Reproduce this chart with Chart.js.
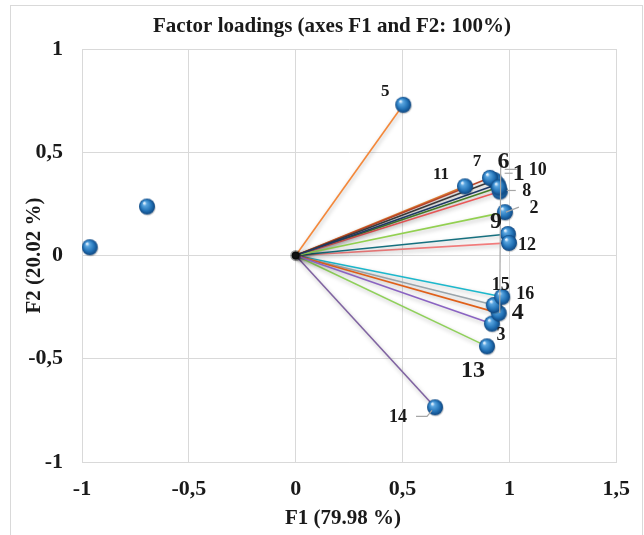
<!DOCTYPE html>
<html>
<head>
<meta charset="utf-8">
<script src="https://cdn.jsdelivr.net/npm/chart.js@4"></script>
<style>
  html, body { margin: 0; padding: 0; background: #ffffff; }
  #wrap { width: 644px; height: 535px; position: relative; }
</style>
</head>
<body>
<div id="wrap"><canvas id="c" width="644" height="535"></canvas></div>
<script>
// ---- data ----
const varLabels = ['1','2','3','4','5','6','7','8','9','10','11','12','13','14','15','16'];
const f1 = [0.945, 0.979, 0.918, 0.950, 0.503, 0.930, 0.909, 0.955, 0.993, 0.950, 0.792, 0.998, 0.895, 0.652, 0.927, 0.966];
const f2 = [0.345, 0.210, -0.330, -0.279, 0.730, 0.365, 0.376, 0.310, 0.104, 0.330, 0.335, 0.061, -0.440, -0.735, -0.240, -0.200];
const suppF1 = [-0.964, -0.696];
const suppF2 = [0.040, 0.237];
const xTickLabels = ['-1', '-0,5', '0', '0,5', '1', '1,5'];
const yTickLabels = ['-1', '-0,5', '0', '0,5', '1'];
const chartTitle = 'Factor loadings (axes F1 and F2: 100%)';
const xTitle = 'F1 (79.98 %)';
const yTitle = 'F2 (20.02 %)';

// ---- styles ----
const lineColors = ['#1f3864', '#92d050', '#8a63c2', '#e0601a', '#f4883a', '#3a3a3a', '#b8452a',
                    '#ef5a5a', '#16707f', '#4d8a2a', '#e07b2e', '#f27c7c', '#8fd05a', '#8064a2', '#9aa4aa', '#1cb8cc'];
const labelFont = [24, 18, 18, 24, 17, 24, 17, 18, 24, 18, 17, 18, 24, 18, 18, 18];
// label offsets in pixels relative to the point, and optional leader polylines (pixel offsets)
const labelOffsets = [[21,-10],[29,-4],[9,12],[19,0],[-18,-13],[9,-18],[-13,-16],[27,0],[-12,-12],[39,-17],
                      [-24,-12],[18,2],[-14,24],[-37,10],[7,-20],[23,-2]];
const leaders = {
  0: [[7,-11],[15,-11]],
  1: [[1,0],[14,-5]],
  3: [[1,0],[2,-148]],
  7: [[7,-1],[16,-1]],
  9: [[6,-18],[18,-18]],
  13: [[-3,3],[-8,9],[-19,9]]
};

function makeSphere(r) {
  const s = r * 2 + 4;
  const cv = document.createElement('canvas');
  cv.width = s; cv.height = s;
  const g = cv.getContext('2d');
  const c = s / 2;
  g.beginPath(); g.arc(c + 0.8, c + 1.2, r, 0, Math.PI * 2);
  g.fillStyle = 'rgba(0,0,0,0.18)'; g.fill();
  const grad = g.createRadialGradient(c - r * 0.35, c - r * 0.45, r * 0.08, c, c, r);
  grad.addColorStop(0, '#e4f2ff');
  grad.addColorStop(0.2, '#5aa6e0');
  grad.addColorStop(0.65, '#2474b8');
  grad.addColorStop(1, '#0e4680');
  g.beginPath(); g.arc(c, c, r, 0, Math.PI * 2);
  g.fillStyle = grad; g.fill();
  return cv;
}
const sphere = makeSphere(8);

const datasets = [];
datasets.push({
  label: 'variables', data: f1.map((x, i) => ({x: x, y: f2[i]})),
  pointStyle: sphere, pointRadius: 8, showLine: false, order: 0
});
datasets.push({
  label: 'supplementary', data: suppF1.map((x, i) => ({x: x, y: suppF2[i]})),
  pointStyle: sphere, pointRadius: 8, showLine: false, order: 0
});
datasets.push({
  label: 'origin', data: [{x: 0, y: 0}],
  pointRadius: 4, pointBackgroundColor: '#111', pointBorderColor: 'rgba(0,0,0,0.35)', pointBorderWidth: 3,
  showLine: false, order: 1
});
f1.forEach((x, i) => {
  datasets.push({
    label: 'v' + varLabels[i], data: [{x: 0, y: 0}, {x: x, y: f2[i]}],
    showLine: true, borderColor: lineColors[i], borderWidth: 1.6, pointRadius: 0, order: 2, isVector: true
  });
});

const serif = "'Liberation Serif', 'Times New Roman', serif";

const shadowPlugin = {
  id: 'vecShadow',
  beforeDatasetDraw(chart, args) {
    if (chart.data.datasets[args.index].isVector) {
      chart.ctx.save();
      chart.ctx.shadowColor = 'rgba(0,0,0,0.28)';
      chart.ctx.shadowBlur = 4;
      chart.ctx.shadowOffsetX = 1;
      chart.ctx.shadowOffsetY = 2;
    }
  },
  afterDatasetDraw(chart, args) {
    if (chart.data.datasets[args.index].isVector) chart.ctx.restore();
  }
};

const framePlugin = {
  id: 'frame',
  beforeDraw(chart) {
    const ctx = chart.ctx;
    ctx.save();
    ctx.fillStyle = '#fff';
    ctx.fillRect(0, 0, chart.width, chart.height);
    ctx.strokeStyle = '#d9d9d9';
    ctx.lineWidth = 1;
    ctx.strokeRect(10.5, 5.5, 632, 540);
    ctx.restore();
  },
  afterDraw(chart) {
    const ctx = chart.ctx;
    ctx.save();
    ctx.fillStyle = '#1a1a1a';
    ctx.textAlign = 'center';
    ctx.textBaseline = 'middle';
    ctx.font = 'bold 21px ' + serif;
    ctx.fillText(chartTitle, 332, 27);
    ctx.font = 'bold 21px ' + serif;
    ctx.fillText(xTitle, 343, 519);
    ctx.restore();
  }
};

const labelPlugin = {
  id: 'ptLabels',
  afterDatasetsDraw(chart) {
    const ctx = chart.ctx;
    const xs = chart.scales.x, ys = chart.scales.y;
    ctx.save();
    ctx.strokeStyle = '#a6a6a6';
    ctx.lineWidth = 1.2;
    Object.keys(leaders).forEach(k => {
      const i = +k;
      const px = xs.getPixelForValue(f1[i]), py = ys.getPixelForValue(f2[i]);
      const pts = leaders[k];
      ctx.beginPath();
      ctx.moveTo(px + pts[0][0], py + pts[0][1]);
      for (let j = 1; j < pts.length; j++) ctx.lineTo(px + pts[j][0], py + pts[j][1]);
      ctx.stroke();
    });
    ctx.fillStyle = '#1a1a1a';
    ctx.textAlign = 'center';
    ctx.textBaseline = 'middle';
    varLabels.forEach((t, i) => {
      const px = xs.getPixelForValue(f1[i]), py = ys.getPixelForValue(f2[i]);
      ctx.font = 'bold ' + labelFont[i] + 'px ' + serif;
      ctx.fillText(t, px + labelOffsets[i][0], py + labelOffsets[i][1]);
    });
    ctx.restore();
  }
};

new Chart(document.getElementById('c'), {
  type: 'scatter',
  data: { datasets: datasets },
  options: {
    responsive: false,
    animation: false,
    events: [],
    layout: { padding: { left: 0, right: 26, top: 49, bottom: 0 } },
    plugins: {
      legend: { display: false },
      tooltip: { enabled: false },
      title: { display: false }
    },
    scales: {
      x: {
        type: 'linear', min: -1, max: 1.5,
        ticks: { stepSize: 0.5, padding: 14, color: '#1a1a1a', maxRotation: 0,
                 font: { family: serif, size: 22, weight: 'bold' },
                 callback: (v, i) => xTickLabels[i] },
        grid: { color: '#d9d9d9', lineWidth: 1, drawTicks: false },
        border: { display: true, color: '#d9d9d9' },
        title: { display: false },
        afterFit: s => { s.height = 73; }
      },
      y: {
        type: 'linear', min: -1, max: 1,
        ticks: { stepSize: 0.5, padding: 19, color: '#1a1a1a',
                 font: { family: serif, size: 22, weight: 'bold' },
                 callback: (v, i) => yTickLabels[i] },
        grid: { color: '#d9d9d9', lineWidth: 1, drawTicks: false },
        border: { display: true, color: '#d9d9d9' },
        title: { display: true, text: yTitle, color: '#1a1a1a',
                 font: { family: serif, size: 21, weight: 'bold' }, padding: { top: 22, bottom: 0 } },
        afterFit: s => { s.width = 82; }
      }
    }
  },
  plugins: [framePlugin, shadowPlugin, labelPlugin]
});
</script>
</body>
</html>
